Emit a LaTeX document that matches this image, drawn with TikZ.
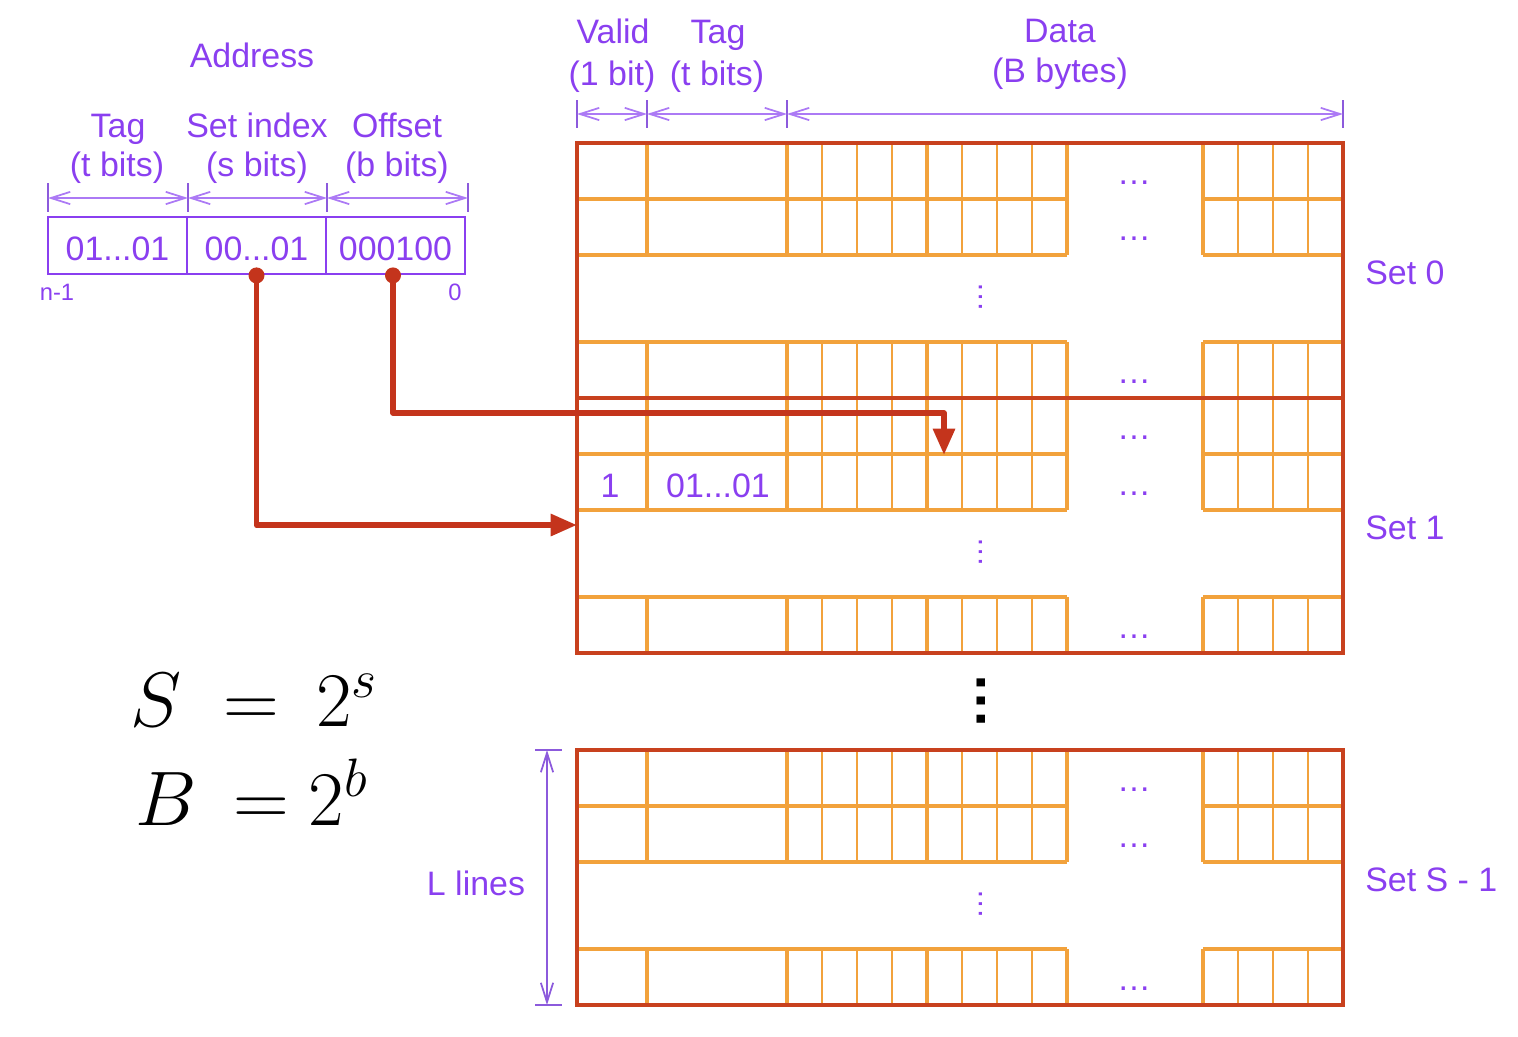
\RequirePackage{fix-cm}
\documentclass[tikz,border=0pt]{standalone}
\usepackage{fontspec}
\setmainfont{Liberation Sans}
\usetikzlibrary{arrows.meta}
\definecolor{txtpurple}{RGB}{138,63,240}
\definecolor{dimpurple}{RGB}{172,122,245}
\definecolor{tickpurple}{RGB}{140,90,220}
\definecolor{framered}{RGB}{200,65,30}
\definecolor{arrowred}{RGB}{196,52,28}
\definecolor{gridorange}{RGB}{242,162,60}
\newcommand{\cachelinerow}[1]{%
  \draw[gthick] (577,#1) -- (1067,#1) (577,#1+56) -- (1067,#1+56);
  \draw[gthick] (1203,#1) -- (1343,#1) (1203,#1+56) -- (1343,#1+56);
  \foreach \xx in {647,787,927,1067,1203} \draw[gthick] (\xx,#1) -- (\xx,#1+56);
  \foreach \xx in {822,857,892,962,997,1032,1238,1273,1308} \draw[gthin] (\xx,#1) -- (\xx,#1+56);
  \node[lbl, anchor=base] at (1134,#1+41) {…};
}
\newcommand{\cacheset}[1]{%
  \cachelinerow{#1}
  \cachelinerow{#1+56}
  \cachelinerow{#1+199}
  \node[lbl, font=\fontsize{17.5}{20}\selectfont, rotate=90] at (981,#1+154) {…};
  \draw[framered, line width=2pt] (577,#1) rectangle (1343,#1+255);
}
\begin{document}
\begin{tikzpicture}[x=0.02cm,y=-0.02cm,
  lbl/.style={text=txtpurple, font=\fontsize{19.3}{23}\selectfont, inner sep=0pt},
  small/.style={text=txtpurple, font=\fontsize{13.5}{16}\selectfont, inner sep=0pt},
  field/.style={draw=txtpurple, line width=1.6pt, text=txtpurple,
    font=\fontsize{19.3}{23}\selectfont, inner sep=0pt,
    minimum width=2.78cm, minimum height=1.14cm, text height=16.5pt, text depth=0pt},
  gthick/.style={draw=gridorange, line width=1.8pt},
  gthin/.style={draw=gridorange, line width=0.9pt},
  dim/.style={draw=dimpurple, line width=1pt, {Straight Barb[length=11pt,width=7pt]}-{Straight Barb[length=11pt,width=7pt]}},
  dimtick/.style={draw=tickpurple, line width=0.9pt},
  redarrow/.style={draw=arrowred, line width=3.3pt, line join=round, -{Triangle[length=15pt,width=12pt]}},
  formula/.style={font=\fontsize{44}{48}\selectfont, inner sep=0pt, anchor=base west}
]
\useasboundingbox (0,0) rectangle (1518,1036);

% ---------- Address ----------
\node[lbl, anchor=base] (addr) at (252,67) {Address};
\node[lbl, anchor=base] (ltag) at (118,137) {Tag};
\node[lbl, anchor=base] (ltagb) at (117,176) {(t bits)};
\node[lbl, anchor=base] (lset) at (257,137) {Set index};
\node[lbl, anchor=base] (lsetb) at (257,176) {(s bits)};
\node[lbl, anchor=base] (loff) at (397,137) {Offset};
\node[lbl, anchor=base] (loffb) at (397,176) {(b bits)};

\node[field] (tagf) at (117.5,245.5) {01...01};
\node[field] (setf) at (256.5,245.5) {00...01};
\node[field] (offf) at (395.5,245.5) {000100};

\node[small, anchor=base] (nm1) at (57,300) {n-1};
\node[small, anchor=base] (zero) at (455,300) {0};

\foreach \xx in {48,188,327,468} \draw[dimtick] (\xx,183) -- (\xx,212);
\draw[dim] (48,198) -- (188,198);
\draw[dim] (188,198) -- (327,198);
\draw[dim] (327,198) -- (468,198);

% ---------- Cache header ----------
\node[lbl, anchor=base] (hvalid) at (613,43) {Valid};
\node[lbl, anchor=base] (hvalidb) at (612,85) {(1 bit)};
\node[lbl, anchor=base] (htag) at (718,43) {Tag};
\node[lbl, anchor=base] (htagb) at (717,85) {(t bits)};
\node[lbl, anchor=base] (hdata) at (1060,42) {Data};
\node[lbl, anchor=base] (hdatab) at (1060,82) {(B bytes)};
\foreach \xx in {577,647,787,1343} \draw[dimtick] (\xx,100) -- (\xx,128);
\draw[dim] (577,114) -- (647,114);
\draw[dim] (647,114) -- (787,114);
\draw[dim] (787,114) -- (1343,114);

% ---------- Sets ----------
\cacheset{143}
\cacheset{398}
\cacheset{750}

\node[lbl, anchor=base] (v1) at (610,497) {1};
\node[lbl, anchor=base] (t1) at (718,497) {01...01};

\node[lbl, anchor=west] (set0) at (1365,273) {Set 0};
\node[lbl, anchor=west] (set1) at (1365,528) {Set 1};
\node[lbl, anchor=west] (setS) at (1365,880) {Set S - 1};

\node[inner sep=0pt, rotate=90, font=\fontsize{32.5}{36}\selectfont\bfseries] (vdots) at (981,701) {…};

% ---------- L lines ----------
\node[lbl, anchor=base] (llines) at (476,895) {L lines};
\draw[dimtick] (535,750) -- (562,750);
\draw[dimtick] (535,1005) -- (562,1005);
\draw[dim, draw=tickpurple] (547,750) -- (547,1005);

% ---------- Red connectors ----------
\coordinate (sdot) at (setf.south);
\coordinate (odot) at ([xshift=-0.05cm]offf.south);
\coordinate (set1in) at (577,525);
\coordinate (turn) at (944,413);
\coordinate (byte) at (944,455);
\draw[redarrow] (sdot) |- (set1in);
\draw[redarrow] (odot) |- (turn) -- (byte);
\fill[arrowred] (sdot) circle (0.16cm);
\fill[arrowred] (odot) circle (0.16cm);

% ---------- Formulas ----------
\node[formula] (fs) at (130,726) {$S$\hspace{24pt}$=$\hspace{21pt}$2^{s}$};
\node[formula] (fb) at (135,825) {$B$\hspace{21pt}$=$\hspace{11pt}$2^{b}$};
\end{tikzpicture}
\end{document}
